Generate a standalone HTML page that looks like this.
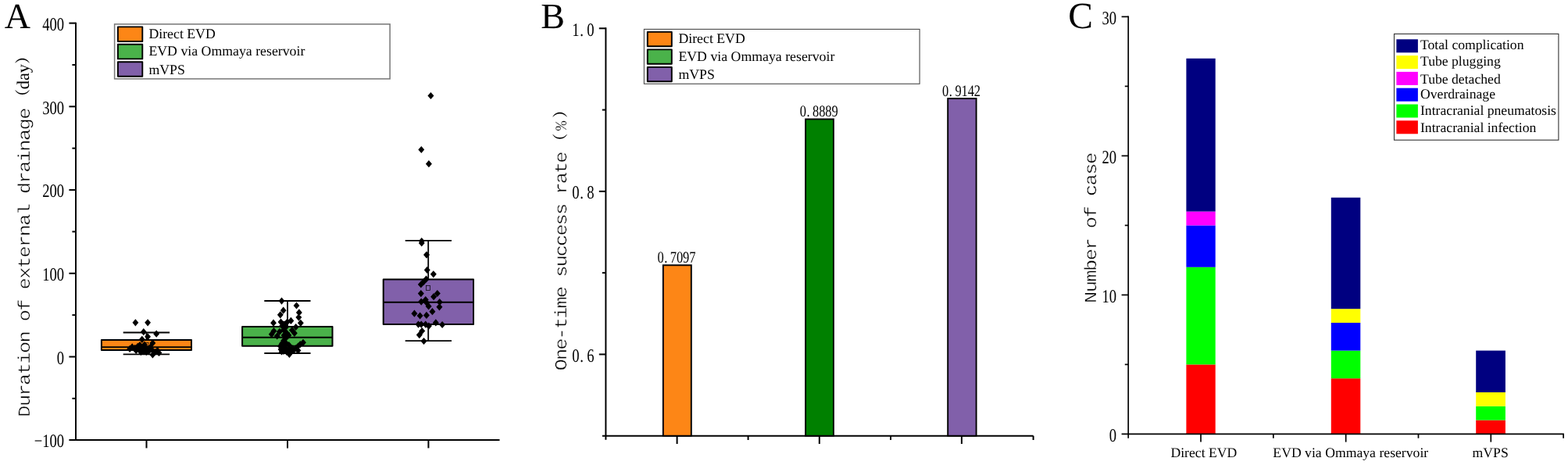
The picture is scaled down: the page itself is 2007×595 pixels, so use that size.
<!DOCTYPE html>
<html lang="en">
<head>
<meta charset="utf-8">
<title>Figure</title>
<style>
html,body{margin:0;padding:0;background:#fff;}
body{width:2007px;height:595px;overflow:hidden;}
svg{display:block;}
text{fill:#000;white-space:pre;text-rendering:geometricPrecision;}
.vt{stroke:#fff;stroke-width:0.45px;}
</style>
</head>
<body>
<svg width="2007" height="595" viewBox="0 0 2007 595">
<rect x="0" y="0" width="2007" height="595" fill="#fff"/>
<text x="5.80" y="36.20" font-size="46" font-family='"Liberation Serif", "Noto Serif CJK SC", serif' text-anchor="start">A</text>
<line x1="97.00" y1="28.72" x2="97.00" y2="564.10" stroke="#000" stroke-width="2" stroke-linecap="butt"/>
<line x1="88.40" y1="563.10" x2="639.50" y2="563.10" stroke="#000" stroke-width="2" stroke-linecap="butt"/>
<text transform="translate(82.10,572.41) scale(0.775,1)" font-size="24.0" font-family='"Liberation Serif", "Noto Serif CJK SC", serif' text-anchor="end">−100</text>
<line x1="92.40" y1="509.86" x2="97.00" y2="509.86" stroke="#000" stroke-width="2" stroke-linecap="butt"/>
<line x1="88.40" y1="456.50" x2="97.00" y2="456.50" stroke="#000" stroke-width="2" stroke-linecap="butt"/>
<text transform="translate(82.10,465.81) scale(0.775,1)" font-size="24.0" font-family='"Liberation Serif", "Noto Serif CJK SC", serif' text-anchor="end">0</text>
<line x1="92.40" y1="403.14" x2="97.00" y2="403.14" stroke="#000" stroke-width="2" stroke-linecap="butt"/>
<line x1="88.40" y1="349.78" x2="97.00" y2="349.78" stroke="#000" stroke-width="2" stroke-linecap="butt"/>
<text transform="translate(82.10,359.09) scale(0.775,1)" font-size="24.0" font-family='"Liberation Serif", "Noto Serif CJK SC", serif' text-anchor="end">100</text>
<line x1="92.40" y1="296.42" x2="97.00" y2="296.42" stroke="#000" stroke-width="2" stroke-linecap="butt"/>
<line x1="88.40" y1="243.06" x2="97.00" y2="243.06" stroke="#000" stroke-width="2" stroke-linecap="butt"/>
<text transform="translate(82.10,252.37) scale(0.775,1)" font-size="24.0" font-family='"Liberation Serif", "Noto Serif CJK SC", serif' text-anchor="end">200</text>
<line x1="92.40" y1="189.70" x2="97.00" y2="189.70" stroke="#000" stroke-width="2" stroke-linecap="butt"/>
<line x1="88.40" y1="136.34" x2="97.00" y2="136.34" stroke="#000" stroke-width="2" stroke-linecap="butt"/>
<text transform="translate(82.10,145.65) scale(0.775,1)" font-size="24.0" font-family='"Liberation Serif", "Noto Serif CJK SC", serif' text-anchor="end">300</text>
<line x1="92.40" y1="82.98" x2="97.00" y2="82.98" stroke="#000" stroke-width="2" stroke-linecap="butt"/>
<line x1="88.40" y1="29.62" x2="97.00" y2="29.62" stroke="#000" stroke-width="2" stroke-linecap="butt"/>
<text transform="translate(82.10,38.93) scale(0.775,1)" font-size="24.0" font-family='"Liberation Serif", "Noto Serif CJK SC", serif' text-anchor="end">400</text>
<line x1="187.50" y1="563.10" x2="187.50" y2="573.40" stroke="#000" stroke-width="2" stroke-linecap="butt"/>
<line x1="368.00" y1="563.10" x2="368.00" y2="573.40" stroke="#000" stroke-width="2" stroke-linecap="butt"/>
<line x1="548.40" y1="563.10" x2="548.40" y2="573.40" stroke="#000" stroke-width="2" stroke-linecap="butt"/>
<text transform="translate(38.00,533.70) rotate(-90) scale(1.05,0.9)" font-size="24.0" font-family='"Liberation Mono", "DejaVu Sans Mono", monospace' letter-spacing="-1.448" class="vt">Duration of external drainage</text>
<text transform="translate(38.00,533.70) rotate(-90)" font-size="19.5" font-family='"Noto Serif CJK SC", "Liberation Serif", serif'><tspan x="400.2" y="-1.6" font-weight="600">（</tspan><tspan x="419.4" y="-1.0" font-size="22.4" font-family='"Liberation Serif", "Noto Serif CJK SC", serif'>day</tspan><tspan x="452.0" y="-1.6" font-weight="600">）</tspan></text>
<rect x="146.60" y="30.90" width="352.50" height="70.00" fill="#fff" stroke="#777" stroke-width="1.5"/>
<rect x="150.90" y="34.40" width="31.40" height="18.60" fill="#FD8616" stroke="#000" stroke-width="1.9" stroke-linejoin="round"/>
<text x="190.40" y="48.90" font-size="17.8" font-family='"Liberation Serif", "Noto Serif CJK SC", serif' text-anchor="start">Direct EVD</text>
<rect x="150.90" y="56.80" width="31.40" height="18.60" fill="#4AB24A" stroke="#000" stroke-width="1.9" stroke-linejoin="round"/>
<text x="190.40" y="71.30" font-size="17.8" font-family='"Liberation Serif", "Noto Serif CJK SC", serif' text-anchor="start">EVD via Ommaya reservoir</text>
<rect x="150.90" y="79.20" width="31.40" height="18.60" fill="#8160AA" stroke="#000" stroke-width="1.9" stroke-linejoin="round"/>
<text x="190.40" y="94.50" font-size="17.8" font-family='"Liberation Serif", "Noto Serif CJK SC", serif' text-anchor="start">mVPS</text>
<line x1="187.50" y1="425.50" x2="187.50" y2="434.00" stroke="#000" stroke-width="1.8" stroke-linecap="butt"/>
<line x1="187.50" y1="449.00" x2="187.50" y2="453.40" stroke="#000" stroke-width="1.8" stroke-linecap="butt"/>
<line x1="157.70" y1="425.50" x2="217.10" y2="425.50" stroke="#000" stroke-width="1.8" stroke-linecap="butt"/>
<line x1="157.70" y1="453.40" x2="217.10" y2="453.40" stroke="#000" stroke-width="1.8" stroke-linecap="butt"/>
<rect x="129.90" y="435.00" width="115.10" height="13.00" fill="#FD8616" stroke="#000" stroke-width="2" stroke-linejoin="round"/>
<line x1="129.90" y1="444.10" x2="245.00" y2="444.10" stroke="#000" stroke-width="1.9" stroke-linecap="butt"/>
<line x1="368.00" y1="385.00" x2="368.00" y2="417.00" stroke="#000" stroke-width="1.8" stroke-linecap="butt"/>
<line x1="368.00" y1="443.70" x2="368.00" y2="452.00" stroke="#000" stroke-width="1.8" stroke-linecap="butt"/>
<line x1="338.30" y1="385.00" x2="397.50" y2="385.00" stroke="#000" stroke-width="1.8" stroke-linecap="butt"/>
<line x1="338.30" y1="452.00" x2="397.50" y2="452.00" stroke="#000" stroke-width="1.8" stroke-linecap="butt"/>
<rect x="310.10" y="418.00" width="115.40" height="24.70" fill="#4AB24A" stroke="#000" stroke-width="2" stroke-linejoin="round"/>
<line x1="310.10" y1="431.80" x2="425.50" y2="431.80" stroke="#000" stroke-width="1.9" stroke-linecap="butt"/>
<line x1="548.20" y1="307.80" x2="548.20" y2="356.40" stroke="#000" stroke-width="1.8" stroke-linecap="butt"/>
<line x1="548.20" y1="415.90" x2="548.20" y2="436.10" stroke="#000" stroke-width="1.8" stroke-linecap="butt"/>
<line x1="518.70" y1="307.80" x2="578.00" y2="307.80" stroke="#000" stroke-width="1.8" stroke-linecap="butt"/>
<line x1="518.70" y1="436.10" x2="578.00" y2="436.10" stroke="#000" stroke-width="1.8" stroke-linecap="butt"/>
<rect x="490.70" y="357.40" width="115.30" height="57.50" fill="#8160AA" stroke="#000" stroke-width="2" stroke-linejoin="round"/>
<line x1="490.70" y1="386.80" x2="606.00" y2="386.80" stroke="#000" stroke-width="1.9" stroke-linecap="butt"/>
<rect x="185.00" y="438.30" width="5.00" height="6.00" fill="none" stroke="#000" stroke-width="0.7"/>
<rect x="365.50" y="425.50" width="5.00" height="6.00" fill="none" stroke="#000" stroke-width="0.7"/>
<rect x="545.50" y="365.50" width="5.00" height="6.00" fill="none" stroke="#000" stroke-width="0.7"/>
<path d="M173.4 408.2L177.3 412.8L173.4 417.4L169.5 412.8ZM189.1 408.2L193.0 412.8L189.1 417.4L185.2 412.8ZM183.8 420.1L187.8 424.7L183.8 429.3L179.9 424.7ZM200.2 422.6L204.1 427.2L200.2 431.8L196.2 427.2ZM189.1 426.2L193.0 430.8L189.1 435.4L185.2 430.8ZM181.8 429.7L185.8 434.3L181.8 438.9L177.9 434.3ZM195.4 434.3L199.3 438.9L195.4 443.5L191.5 438.9ZM166.1 441.8L170.0 446.4L166.1 451.0L162.2 446.4ZM169.2 439.3L173.1 443.9L169.2 448.5L165.2 443.9ZM172.7 440.8L176.6 445.4L172.7 450.0L168.8 445.4ZM176.2 438.8L180.1 443.4L176.2 448.0L172.2 443.4ZM178.3 442.8L182.2 447.4L178.3 452.0L174.4 447.4ZM181.3 440.8L185.2 445.4L181.3 450.0L177.4 445.4ZM184.3 442.8L188.2 447.4L184.3 452.0L180.4 447.4ZM186.3 439.8L190.2 444.4L186.3 449.0L182.4 444.4ZM189.4 441.8L193.3 446.4L189.4 451.0L185.5 446.4ZM192.4 439.8L196.3 444.4L192.4 449.0L188.5 444.4ZM194.4 442.8L198.3 447.4L194.4 452.0L190.5 447.4ZM174.2 443.8L178.1 448.4L174.2 453.0L170.2 448.4ZM183.3 444.8L187.2 449.4L183.3 454.0L179.4 449.4ZM190.4 444.8L194.3 449.4L190.4 454.0L186.5 449.4ZM201.5 443.8L205.4 448.4L201.5 453.0L197.6 448.4ZM203.5 446.9L207.4 451.5L203.5 456.1L199.6 451.5ZM195.4 449.4L199.3 454.0L195.4 458.6L191.5 454.0ZM198.4 445.9L202.3 450.5L198.4 455.1L194.5 450.5ZM187.3 445.9L191.2 450.5L187.3 455.1L183.4 450.5ZM180.3 445.9L184.2 450.5L180.3 455.1L176.4 450.5ZM185.0 436.4L188.9 441.0L185.0 445.6L181.1 441.0ZM179.0 436.9L182.9 441.5L179.0 446.1L175.1 441.5ZM360.5 380.5L364.4 385.1L360.5 389.7L356.6 385.1ZM379.5 386.4L383.4 391.0L379.5 395.6L375.6 391.0ZM362.7 392.6L366.6 397.2L362.7 401.8L358.8 397.2ZM358.8 398.2L362.8 402.8L358.8 407.4L354.9 402.8ZM382.9 395.3L386.8 399.9L382.9 404.5L378.9 399.9ZM382.4 401.5L386.3 406.1L382.4 410.7L378.4 406.1ZM384.8 408.7L388.8 413.3L384.8 417.9L380.9 413.3ZM372.4 405.8L376.3 410.4L372.4 415.0L368.4 410.4ZM367.6 407.4L371.6 412.0L367.6 416.6L363.7 412.0ZM359.5 407.4L363.4 412.0L359.5 416.6L355.6 412.0ZM350.0 408.6L353.9 413.2L350.0 417.8L346.1 413.2ZM378.7 413.9L382.6 418.5L378.7 423.1L374.8 418.5ZM361.1 412.4L365.1 417.0L361.1 421.6L357.2 417.0ZM350.5 418.9L354.4 423.5L350.5 428.1L346.6 423.5ZM347.7 423.1L351.6 427.7L347.7 432.3L343.8 427.7ZM354.7 425.4L358.6 430.0L354.7 434.6L350.8 430.0ZM357.9 419.8L361.8 424.4L357.9 429.0L353.9 424.4ZM376.9 421.7L380.8 426.3L376.9 430.9L372.9 426.3ZM373.8 417.9L377.8 422.5L373.8 427.1L369.9 422.5ZM388.0 433.7L391.9 438.3L388.0 442.9L384.1 438.3ZM384.3 436.0L388.2 440.6L384.3 445.2L380.4 440.6ZM381.5 438.4L385.4 443.0L381.5 447.6L377.6 443.0ZM378.7 441.1L382.6 445.7L378.7 450.3L374.8 445.7ZM376.0 443.4L379.9 448.0L376.0 452.6L372.1 448.0ZM381.5 443.9L385.4 448.5L381.5 453.1L377.6 448.5ZM370.4 448.7L374.3 453.3L370.4 457.9L366.4 453.3ZM363.5 410.4L367.4 415.0L363.5 419.6L359.6 415.0ZM366.0 413.9L369.9 418.5L366.0 423.1L362.1 418.5ZM363.0 417.4L366.9 422.0L363.0 426.6L359.1 422.0ZM366.5 420.9L370.4 425.5L366.5 430.1L362.6 425.5ZM363.5 424.4L367.4 429.0L363.5 433.6L359.6 429.0ZM366.0 427.9L369.9 432.5L366.0 437.1L362.1 432.5ZM363.0 431.4L366.9 436.0L363.0 440.6L359.1 436.0ZM366.5 434.9L370.4 439.5L366.5 444.1L362.6 439.5ZM363.5 438.4L367.4 443.0L363.5 447.6L359.6 443.0ZM366.0 441.9L369.9 446.5L366.0 451.1L362.1 446.5ZM363.0 444.9L366.9 449.5L363.0 454.1L359.1 449.5ZM367.0 445.9L370.9 450.5L367.0 455.1L363.1 450.5ZM358.8 438.4L362.8 443.0L358.8 447.6L354.9 443.0ZM359.5 442.4L363.4 447.0L359.5 451.6L355.6 447.0ZM360.5 445.4L364.4 450.0L360.5 454.6L356.6 450.0ZM361.0 434.9L364.9 439.5L361.0 444.1L357.1 439.5ZM369.5 424.4L373.4 429.0L369.5 433.6L365.6 429.0ZM372.5 444.9L376.4 449.5L372.5 454.1L368.6 449.5ZM370.5 441.7L374.4 446.3L370.5 450.9L366.6 446.3ZM374.2 441.2L378.1 445.8L374.2 450.4L370.2 445.8ZM369.8 436.9L373.8 441.5L369.8 446.1L365.9 441.5ZM551.4 117.9L555.4 122.5L551.4 127.1L547.4 122.5ZM539.3 186.9L543.2 191.5L539.3 196.1L535.3 191.5ZM548.9 205.1L552.9 209.7L548.9 214.3L544.9 209.7ZM539.7 303.9L543.7 308.5L539.7 313.1L535.8 308.5ZM539.7 306.4L543.7 311.0L539.7 315.6L535.8 311.0ZM546.0 321.5L550.0 326.1L546.0 330.7L542.0 326.1ZM546.7 340.9L550.7 345.5L546.7 350.1L542.8 345.5ZM554.8 346.2L558.8 350.8L554.8 355.4L550.8 350.8ZM545.5 352.6L549.5 357.2L545.5 361.8L541.5 357.2ZM542.2 356.0L546.2 360.6L542.2 365.2L538.2 360.6ZM538.8 359.4L542.8 364.0L538.8 368.6L534.8 364.0ZM538.8 371.0L542.8 375.6L538.8 380.2L534.8 375.6ZM559.8 370.9L563.8 375.5L559.8 380.1L555.8 375.5ZM555.1 375.1L559.1 379.7L555.1 384.3L551.1 379.7ZM539.2 381.5L543.2 386.1L539.2 390.7L535.2 386.1ZM544.7 378.9L548.7 383.5L544.7 388.1L540.8 383.5ZM546.4 383.1L550.4 387.7L546.4 392.3L542.4 387.7ZM548.6 387.3L552.6 391.9L548.6 396.5L544.6 391.9ZM562.7 382.0L566.7 386.6L562.7 391.2L558.8 386.6ZM562.4 388.2L566.4 392.8L562.4 397.4L558.4 392.8ZM553.4 394.1L557.4 398.7L553.4 403.3L549.4 398.7ZM530.4 396.6L534.4 401.2L530.4 405.8L526.4 401.2ZM537.6 399.4L541.6 404.0L537.6 408.6L533.6 404.0ZM545.9 398.8L549.9 403.4L545.9 408.0L541.9 403.4ZM535.5 410.5L539.5 415.1L535.5 419.7L531.5 415.1ZM539.2 410.5L543.2 415.1L539.2 419.7L535.2 415.1ZM544.7 410.5L548.7 415.1L544.7 419.7L540.8 415.1ZM548.9 412.5L552.9 417.1L548.9 421.7L544.9 417.1ZM557.8 408.3L561.8 412.9L557.8 417.5L553.8 412.9ZM566.1 410.9L570.1 415.5L566.1 420.1L562.1 415.5ZM540.2 418.9L544.2 423.5L540.2 428.1L536.2 423.5ZM536.8 424.0L540.8 428.6L536.8 433.2L532.8 428.6ZM542.5 431.9L546.5 436.5L542.5 441.1L538.5 436.5Z" fill="#000"/>
<text x="692.30" y="36.20" font-size="46" font-family='"Liberation Serif", "Noto Serif CJK SC", serif' text-anchor="start">B</text>
<line x1="775.40" y1="35.30" x2="775.40" y2="562.70" stroke="#000" stroke-width="2" stroke-linecap="butt"/>
<line x1="770.90" y1="557.70" x2="1322.60" y2="557.70" stroke="#000" stroke-width="2" stroke-linecap="butt"/>
<line x1="766.80" y1="36.30" x2="775.40" y2="36.30" stroke="#000" stroke-width="2" stroke-linecap="butt"/>
<text transform="translate(760.60,45.61) scale(0.775,1)" x="-36.65 -23.59 -12.13" font-size="24.0" font-family='"Liberation Serif", "Noto Serif CJK SC", serif'>1.0</text>
<line x1="770.80" y1="140.58" x2="775.40" y2="140.58" stroke="#000" stroke-width="2" stroke-linecap="butt"/>
<line x1="766.80" y1="244.86" x2="775.40" y2="244.86" stroke="#000" stroke-width="2" stroke-linecap="butt"/>
<text transform="translate(760.60,254.17) scale(0.775,1)" x="-36.65 -23.59 -12.13" font-size="24.0" font-family='"Liberation Serif", "Noto Serif CJK SC", serif'>0.8</text>
<line x1="770.80" y1="349.14" x2="775.40" y2="349.14" stroke="#000" stroke-width="2" stroke-linecap="butt"/>
<line x1="766.80" y1="453.42" x2="775.40" y2="453.42" stroke="#000" stroke-width="2" stroke-linecap="butt"/>
<text transform="translate(760.60,462.73) scale(0.775,1)" x="-36.65 -23.59 -12.13" font-size="24.0" font-family='"Liberation Serif", "Noto Serif CJK SC", serif'>0.6</text>
<line x1="866.60" y1="557.70" x2="866.60" y2="568.00" stroke="#000" stroke-width="2" stroke-linecap="butt"/>
<line x1="957.60" y1="557.70" x2="957.60" y2="563.00" stroke="#000" stroke-width="2" stroke-linecap="butt"/>
<line x1="1048.80" y1="557.70" x2="1048.80" y2="568.00" stroke="#000" stroke-width="2" stroke-linecap="butt"/>
<line x1="1140.00" y1="557.70" x2="1140.00" y2="563.00" stroke="#000" stroke-width="2" stroke-linecap="butt"/>
<line x1="1230.90" y1="557.70" x2="1230.90" y2="568.00" stroke="#000" stroke-width="2" stroke-linecap="butt"/>
<line x1="1322.60" y1="557.70" x2="1322.60" y2="563.00" stroke="#000" stroke-width="2" stroke-linecap="butt"/>
<text transform="translate(725.00,474.20) rotate(-90) scale(1.05,0.9)" font-size="24.0" font-family='"Liberation Mono", "DejaVu Sans Mono", monospace' letter-spacing="-1.762" class="vt">One-time success rate</text>
<text transform="translate(725.00,474.20) rotate(-90)" font-size="19.5" font-family='"Noto Serif CJK SC", "Liberation Serif", serif'><tspan x="284.0" y="-1.0" font-weight="600">（</tspan><tspan x="307.0" y="-0.2" font-size="21" font-family='"Liberation Mono", "DejaVu Sans Mono", monospace' class="vt">%</tspan><tspan x="323.5" y="-1.0" font-weight="600">）</tspan></text>
<rect x="848.80" y="339.32" width="36.00" height="218.38" fill="#FD8616" stroke="#000" stroke-width="1.9"/>
<text transform="translate(866.00,336.21) scale(0.8,1)" x="-30.62 -19.69 -10.24 -0.06 10.13 20.32" font-size="20.6" font-family='"Liberation Serif", "Noto Serif CJK SC", serif'>0.7097</text>
<rect x="1031.10" y="152.46" width="35.80" height="405.24" fill="#008000" stroke="#000" stroke-width="1.9"/>
<text transform="translate(1048.20,149.34) scale(0.8,1)" x="-30.62 -19.69 -10.24 -0.06 10.13 20.32" font-size="20.6" font-family='"Liberation Serif", "Noto Serif CJK SC", serif'>0.8889</text>
<rect x="1213.20" y="126.07" width="36.40" height="431.63" fill="#8160AA" stroke="#000" stroke-width="1.9"/>
<text transform="translate(1230.60,122.96) scale(0.8,1)" x="-30.62 -19.69 -10.24 -0.06 10.13 20.32" font-size="20.6" font-family='"Liberation Serif", "Noto Serif CJK SC", serif'>0.9142</text>
<rect x="824.40" y="37.40" width="352.70" height="69.90" fill="#fff" stroke="#4a4a4a" stroke-width="1.1"/>
<rect x="828.80" y="40.90" width="31.00" height="18.40" fill="#FD8616" stroke="#000" stroke-width="1.9" stroke-linejoin="round"/>
<text x="868.40" y="55.10" font-size="17.8" font-family='"Liberation Serif", "Noto Serif CJK SC", serif' text-anchor="start">Direct EVD</text>
<rect x="828.80" y="63.40" width="31.00" height="18.40" fill="#4AB24A" stroke="#000" stroke-width="1.9" stroke-linejoin="round"/>
<text x="868.40" y="77.70" font-size="17.8" font-family='"Liberation Serif", "Noto Serif CJK SC", serif' text-anchor="start">EVD via Ommaya reservoir</text>
<rect x="828.80" y="85.90" width="31.00" height="18.40" fill="#8160AA" stroke="#000" stroke-width="1.9" stroke-linejoin="round"/>
<text x="868.40" y="101.00" font-size="17.8" font-family='"Liberation Serif", "Noto Serif CJK SC", serif' text-anchor="start">mVPS</text>
<text x="1367.20" y="36.30" font-size="47.5" font-family='"Liberation Serif", "Noto Serif CJK SC", serif' text-anchor="start">C</text>
<line x1="1444.20" y1="20.60" x2="1444.20" y2="560.70" stroke="#000" stroke-width="1.7" stroke-linecap="butt"/>
<text transform="translate(1429.00,564.86) scale(0.775,1)" font-size="24.0" font-family='"Liberation Serif", "Noto Serif CJK SC", serif' text-anchor="end">0</text>
<line x1="1439.80" y1="466.40" x2="1444.20" y2="466.40" stroke="#000" stroke-width="1.7" stroke-linecap="butt"/>
<line x1="1435.60" y1="377.40" x2="1444.20" y2="377.40" stroke="#000" stroke-width="1.7" stroke-linecap="butt"/>
<text transform="translate(1429.00,386.86) scale(0.775,1)" font-size="24.0" font-family='"Liberation Serif", "Noto Serif CJK SC", serif' text-anchor="end">10</text>
<line x1="1439.80" y1="288.40" x2="1444.20" y2="288.40" stroke="#000" stroke-width="1.7" stroke-linecap="butt"/>
<line x1="1435.60" y1="199.40" x2="1444.20" y2="199.40" stroke="#000" stroke-width="1.7" stroke-linecap="butt"/>
<text transform="translate(1429.00,208.86) scale(0.775,1)" font-size="24.0" font-family='"Liberation Serif", "Noto Serif CJK SC", serif' text-anchor="end">20</text>
<line x1="1439.80" y1="110.40" x2="1444.20" y2="110.40" stroke="#000" stroke-width="1.7" stroke-linecap="butt"/>
<line x1="1435.60" y1="21.40" x2="1444.20" y2="21.40" stroke="#000" stroke-width="1.7" stroke-linecap="butt"/>
<text transform="translate(1429.00,30.86) scale(0.775,1)" font-size="24.0" font-family='"Liberation Serif", "Noto Serif CJK SC", serif' text-anchor="end">30</text>
<line x1="1537.02" y1="555.40" x2="1537.02" y2="565.60" stroke="#000" stroke-width="1.7" stroke-linecap="butt"/>
<line x1="1629.84" y1="555.40" x2="1629.84" y2="560.70" stroke="#000" stroke-width="1.7" stroke-linecap="butt"/>
<line x1="1722.66" y1="555.40" x2="1722.66" y2="565.60" stroke="#000" stroke-width="1.7" stroke-linecap="butt"/>
<line x1="1815.48" y1="555.40" x2="1815.48" y2="560.70" stroke="#000" stroke-width="1.7" stroke-linecap="butt"/>
<line x1="1908.30" y1="555.40" x2="1908.30" y2="565.60" stroke="#000" stroke-width="1.7" stroke-linecap="butt"/>
<line x1="2001.12" y1="555.40" x2="2001.12" y2="560.70" stroke="#000" stroke-width="1.7" stroke-linecap="butt"/>
<text transform="translate(1402.70,388.00) rotate(-90) scale(1.05,0.9)" font-size="24.0" font-family='"Liberation Mono", "DejaVu Sans Mono", monospace' letter-spacing="-1.362" class="vt">Number of case</text>
<rect x="1518.40" y="466.40" width="37.30" height="89.00" fill="#FF0000"/>
<rect x="1518.40" y="341.80" width="37.30" height="124.60" fill="#00FF00"/>
<rect x="1518.40" y="288.40" width="37.30" height="53.40" fill="#0000FF"/>
<rect x="1518.40" y="270.60" width="37.30" height="17.80" fill="#FF00FF"/>
<rect x="1518.40" y="74.80" width="37.30" height="195.80" fill="#000080"/>
<rect x="1703.80" y="484.20" width="37.50" height="71.20" fill="#FF0000"/>
<rect x="1703.80" y="448.60" width="37.50" height="35.60" fill="#00FF00"/>
<rect x="1703.80" y="413.00" width="37.50" height="35.60" fill="#0000FF"/>
<rect x="1703.80" y="395.20" width="37.50" height="17.80" fill="#FFFF00"/>
<rect x="1703.80" y="252.80" width="37.50" height="142.40" fill="#000080"/>
<rect x="1889.20" y="537.60" width="37.70" height="17.80" fill="#FF0000"/>
<rect x="1889.20" y="519.80" width="37.70" height="17.80" fill="#00FF00"/>
<rect x="1889.20" y="502.00" width="37.70" height="17.80" fill="#FFFF00"/>
<rect x="1889.20" y="448.60" width="37.70" height="53.40" fill="#000080"/>
<line x1="1435.60" y1="555.40" x2="2001.90" y2="555.40" stroke="#000" stroke-width="1.7" stroke-linecap="butt"/>
<text x="1540.90" y="585.20" font-size="17.7" font-family='"Liberation Serif", "Noto Serif CJK SC", serif' text-anchor="middle">Direct EVD</text>
<text x="1728.80" y="585.20" font-size="17.7" font-family='"Liberation Serif", "Noto Serif CJK SC", serif' text-anchor="middle">EVD via Ommaya reservoir</text>
<text x="1907.70" y="585.20" font-size="17.7" font-family='"Liberation Serif", "Noto Serif CJK SC", serif' text-anchor="middle">mVPS</text>
<rect x="1784.50" y="43.40" width="210.40" height="135.80" fill="#fff" stroke="#333" stroke-width="1.1"/>
<rect x="1787.40" y="50.30" width="27.50" height="17.00" fill="#000080"/>
<text x="1818.00" y="63.20" font-size="17.65" font-family='"Liberation Serif", "Noto Serif CJK SC", serif' text-anchor="start">Total complication</text>
<rect x="1787.40" y="71.10" width="27.50" height="17.00" fill="#FFFF00"/>
<text x="1818.00" y="84.30" font-size="17.65" font-family='"Liberation Serif", "Noto Serif CJK SC", serif' text-anchor="start">Tube plugging</text>
<rect x="1787.40" y="91.90" width="27.50" height="17.00" fill="#FF00FF"/>
<text x="1818.00" y="106.50" font-size="17.65" font-family='"Liberation Serif", "Noto Serif CJK SC", serif' text-anchor="start">Tube detached</text>
<rect x="1787.40" y="112.70" width="27.50" height="17.00" fill="#0000FF"/>
<text x="1818.00" y="125.80" font-size="17.65" font-family='"Liberation Serif", "Noto Serif CJK SC", serif' text-anchor="start">Overdrainage</text>
<rect x="1787.40" y="133.50" width="27.50" height="17.00" fill="#00FF00"/>
<text x="1818.00" y="146.90" font-size="17.65" font-family='"Liberation Serif", "Noto Serif CJK SC", serif' text-anchor="start">Intracranial pneumatosis</text>
<rect x="1787.40" y="154.30" width="27.50" height="17.00" fill="#FF0000"/>
<text x="1818.00" y="169.20" font-size="17.65" font-family='"Liberation Serif", "Noto Serif CJK SC", serif' text-anchor="start">Intracranial infection</text>
</svg>
</body>
</html>
